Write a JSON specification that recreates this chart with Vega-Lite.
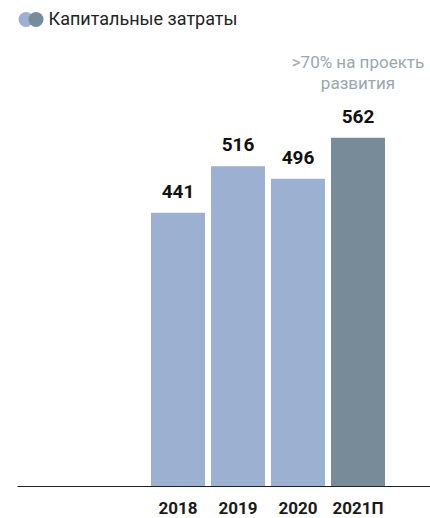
{
  "$schema": "https://vega.github.io/schema/vega-lite/v6.json",
  "width": 413,
  "height": 446,
  "autosize": {"type": "none"},
  "padding": {"left": 17, "top": 40, "right": 0, "bottom": 32},
  "background": "white",
  "config": {"font": "Roboto", "view": {"stroke": null}},
  "data": {
    "values": [
      {"year": "2018", "value": 441, "type": "Факт", "note": ""},
      {"year": "2019", "value": 516, "type": "Факт", "note": ""},
      {"year": "2020", "value": 496, "type": "Факт", "note": ""},
      {"year": "2021П", "value": 562, "type": "План", "note": ">70% на проекть\nразвития"}
    ]
  },
  "encoding": {
    "x": {
      "field": "year",
      "type": "nominal",
      "sort": null,
      "scale": {
        "domain": ["_a", "_b", "2018", "2019", "2020", "2021П"],
        "paddingInner": 0.1,
        "paddingOuter": 0.4917,
        "align": 0.237
      },
      "axis": {
        "title": null,
        "labelAngle": 0,
        "ticks": false,
        "labelPadding": 14,
        "labelFontSize": 17,
        "labelFontWeight": "bold",
        "labelColor": "#1a1a1a",
        "labelExpr": "indexof(datum.label, '_') == 0 ? '' : datum.label",
        "domainColor": "#222222",
        "domainWidth": 1,
        "grid": false
      }
    },
    "y": {
      "field": "value",
      "type": "quantitative",
      "scale": {"domain": [0, 720], "nice": false},
      "axis": null
    }
  },
  "layer": [
    {
      "mark": {"type": "bar", "color": "#778c98"},
      "encoding": {
        "color": {
          "field": "type",
          "type": "nominal",
          "scale": {"domain": ["Факт", "План"], "range": ["#9cb1d1", "#778c98"]},
          "legend": {
            "orient": "none",
            "legendX": 0,
            "legendY": -29.5,
            "direction": "horizontal",
            "title": null,
            "values": ["Факт"],
            "symbolType": "circle",
            "symbolSize": 225,
            "symbolOpacity": 1,
            "symbolStrokeWidth": 0,
            "labelExpr": "''",
            "labelFontSize": 18
          }
        },
        "opacity": {
          "field": "year",
          "type": "ordinal",
          "scale": {"domain": ["2018", "2019", "2020", "2021П"], "range": [1, 1, 1, 1]},
          "legend": {
            "orient": "none",
            "legendX": 10,
            "legendY": -29.5,
            "direction": "horizontal",
            "title": null,
            "values": ["2021П"],
            "symbolType": "circle",
            "symbolSize": 225,
            "symbolOpacity": 1,
            "symbolFillColor": "#778c98",
            "symbolStrokeColor": "#778c98",
            "symbolStrokeWidth": 0,
            "labelExpr": "'Капитальные затраты'",
            "labelFontSize": 18,
            "labelLimit": 400,
            "labelColor": "#222222",
            "labelOffset": 3.6,
            "encode": {
              "symbols": {
                "enter": {"fill": {"value": "#778c98"}, "size": {"value": 225}},
                "update": {"fill": {"value": "#778c98"}, "opacity": {"value": 1}, "strokeWidth": {"value": 0}, "size": {"value": 225}}
              }
            }
          }
        }
      }
    },
    {
      "mark": {"type": "text", "dy": -15, "baseline": "alphabetic", "fontSize": 19, "fontWeight": "bold", "color": "#111111"},
      "encoding": {"text": {"field": "value", "type": "quantitative"}}
    },
    {
      "transform": [{"filter": "datum.note != ''"}],
      "mark": {"type": "text", "dy": -70, "baseline": "alphabetic", "fontSize": 17, "lineBreak": "\n", "lineHeight": 21, "color": "#9aa7af"},
      "encoding": {"text": {"field": "note", "type": "nominal"}}
    }
  ]
}
